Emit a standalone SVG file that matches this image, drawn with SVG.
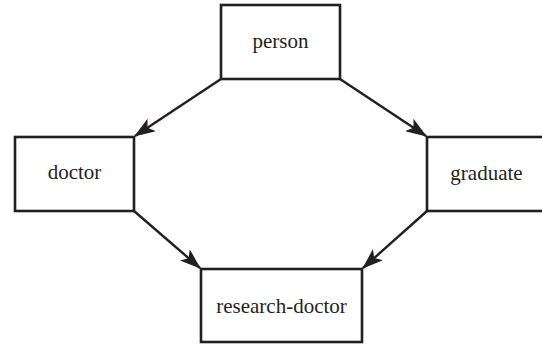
<svg xmlns="http://www.w3.org/2000/svg" width="542" height="345" viewBox="0 0 542 345">
<style>
.box{fill:#fff;stroke:#231f20;stroke-width:2.6}
.lbl{font-family:"Liberation Serif",serif;font-size:21px;fill:#231f20;text-anchor:middle}
.edge{stroke:#231f20;stroke-width:2.4;fill:none;marker-end:url(#ah)}
</style>
<defs>
<marker id="ah" viewBox="0 0 21 15" refX="20" refY="7.5" markerWidth="21" markerHeight="15" markerUnits="userSpaceOnUse" orient="auto">
<path d="M0,0 L21,7.5 L0,15 L5,7.5 Z" fill="#231f20"/>
</marker>
</defs>
<rect width="542" height="345" fill="#fff"/>
<g id="edges">
<line class="edge" x1="221" y1="79" x2="135" y2="136"/>
<line class="edge" x1="340" y1="79" x2="426" y2="136"/>
<line class="edge" x1="134" y1="211" x2="200" y2="268"/>
<line class="edge" x1="427" y1="211" x2="363" y2="268"/>
</g>
<g id="person">
<rect class="box" x="221" y="5" width="119" height="74"/>
<text class="lbl" x="280.5" y="48">person</text>
</g>
<g id="doctor">
<rect class="box" x="15" y="137" width="119" height="74"/>
<text class="lbl" x="74.5" y="179">doctor</text>
</g>
<g id="graduate">
<rect class="box" x="427" y="137" width="119" height="74"/>
<text class="lbl" x="486.5" y="180">graduate</text>
</g>
<g id="research-doctor">
<rect class="box" x="201" y="269" width="161" height="73"/>
<text class="lbl" x="281.5" y="313">research-doctor</text>
</g>
</svg>
